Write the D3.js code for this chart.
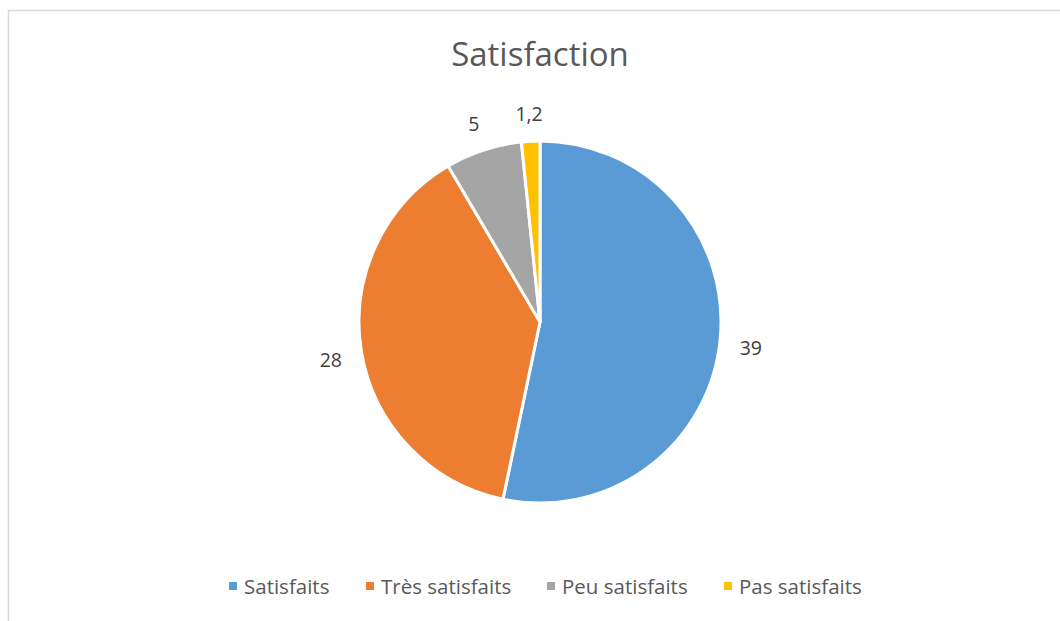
<!DOCTYPE html>
<html><head><meta charset="utf-8">
<script src="https://cdn.jsdelivr.net/npm/d3@7"></script>
<style>body{margin:0;background:#fff}svg{display:block}text{font-family:"Open Sans",sans-serif}</style>
</head><body><svg id="c" width="1060" height="621"></svg>
<script>
const categories = ["Satisfaits", "Très satisfaits", "Peu satisfaits", "Pas satisfaits"];
const values = [39, 28, 5, 1.2];
const valueLabels = ["39", "28", "5", "1,2"];
const colors = ["#5b9bd5", "#ed7d31", "#a5a5a5", "#ffc000"];
const title = "Satisfaction";

const svg = d3.select("#c");
svg.append("path").attr("d","M8.5,621 V10.5 H1060").attr("fill","none").attr("stroke","#d9d9d9").attr("stroke-width",1.5);

svg.append("text").attr("x",540).attr("y",66).attr("text-anchor","middle")
  .attr("font-size",33).attr("fill","#595959").text(title);

const cx=540, cy=322, r=181;
const pie = d3.pie().sort(null).value(d=>d)(values);
const arc = d3.arc().innerRadius(0).outerRadius(r);
const g = svg.append("g").attr("transform",`translate(${cx},${cy})`);
g.selectAll("path").data(pie).join("path").attr("d",arc)
  .attr("fill",(d,i)=>colors[i]).attr("stroke","#fff").attr("stroke-width",3).attr("stroke-linejoin","round");

const lab = d3.arc().innerRadius(212).outerRadius(212);
g.selectAll("text.v").data(pie).join("text").attr("class","v")
  .attr("transform",d=>`translate(${lab.centroid(d)})`)
  .attr("text-anchor","middle").attr("dy","0.55em").attr("font-size",19.5).attr("fill","#404040")
  .text((d,i)=>valueLabels[i]);

const legX = [229, 366, 547, 724];
const lg = svg.append("g");
categories.forEach((c,i)=>{
  lg.append("rect").attr("x",legX[i]).attr("y",582).attr("width",8).attr("height",8).attr("fill",colors[i]);
  lg.append("text").attr("x",legX[i]+15).attr("y",594).attr("font-size",20.5).attr("fill","#595959").text(c);
});
</script></body></html>
